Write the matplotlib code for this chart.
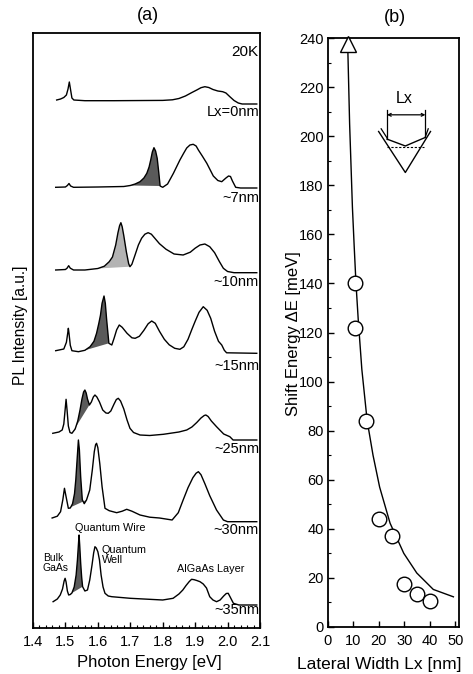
import matplotlib
matplotlib.use('Agg')
import matplotlib.pyplot as plt
from matplotlib.ticker import MultipleLocator, FormatStrFormatter
import numpy as np

plt.rcParams['font.family'] = ['Liberation Sans', 'DejaVu Sans']

# ---------------- Panel (a): PL spectra ----------------
labels_a = ['Lx=0nm', '~7nm', '~10nm', '~15nm', '~25nm', '~30nm', '~35nm']
offsets_a = [524, 440, 355.3, 274.7, 188, 106.3, 23]

e_0 = [1.473, 1.485, 1.495, 1.503, 1.508, 1.512, 1.516, 1.520, 1.526, 1.56, 1.65, 1.75, 1.80,
       1.83, 1.85, 1.87, 1.89, 1.905, 1.918, 1.93, 1.942, 1.955, 1.97, 1.985, 1.995, 2.007,
       2.02, 2.033, 2.045, 2.09]
i_0 = [4, 5, 6.5, 9, 15, 22, 14, 6, 4, 3.3, 3.3, 3.5, 3.6, 4.2, 5.5, 8, 11.5, 14, 16.3, 17.3,
       16.5, 14.5, 13, 12.3, 11, 7.3, 3.5, 1, 0, 0]

e_7 = [1.47, 1.50, 1.506, 1.511, 1.516, 1.525, 1.60, 1.68, 1.70, 1.715, 1.73, 1.742, 1.751,
       1.758, 1.763, 1.768, 1.773, 1.778, 1.783, 1.788, 1.792, 1.80, 1.815, 1.833, 1.853, 1.865,
       1.874, 1.884, 1.894, 1.903, 1.91, 1.922, 1.936, 1.956, 1.970, 1.982, 1.995, 2.003, 2.009,
       2.015, 2.025, 2.04, 2.09]
i_7 = [0.7, 1, 2.5, 4.5, 2, 0.7, 1, 1.5, 2.5, 4, 6.3, 10, 14.7, 21, 28, 36, 40.3, 37, 29.7, 15,
       2, 0.7, 4, 14.7, 28, 35, 40, 43, 43.7, 42, 38, 32, 24.7, 12, 7.5, 6.3, 10, 12, 11.5, 7,
       0.7, 0, 0]

e_10 = [1.47, 1.50, 1.505, 1.510, 1.515, 1.525, 1.56, 1.60, 1.62, 1.635, 1.645, 1.655, 1.662,
        1.667, 1.671, 1.675, 1.68, 1.688, 1.695, 1.699, 1.705, 1.715, 1.725, 1.735, 1.745,
        1.755, 1.765, 1.775, 1.79, 1.81, 1.835, 1.863, 1.885, 1.90, 1.915, 1.93, 1.945, 1.96,
        1.975, 1.987, 2.0, 2.02, 2.09]
i_10 = [2.7, 3.2, 4.5, 7, 4.5, 2.7, 2.7, 4.2, 6.5, 11, 15.7, 27.7, 40, 47, 50, 46, 37, 20.7, 9,
        6, 8.5, 18, 27.7, 34.5, 38.5, 40, 38.5, 34.7, 29, 23.5, 18.7, 17.7, 20.5, 24.5, 27.7,
        28.7, 26, 20, 11, 4.4, 1.2, 0, 0]

e_15 = [1.470, 1.495, 1.503, 1.507, 1.509, 1.511, 1.515, 1.52, 1.54, 1.56, 1.576, 1.588, 1.596,
        1.603, 1.608, 1.613, 1.619, 1.623, 1.627, 1.634, 1.643, 1.65, 1.658, 1.666, 1.675, 1.69,
        1.705, 1.715, 1.728, 1.742, 1.755, 1.766, 1.777, 1.79, 1.805, 1.82, 1.837, 1.853, 1.865,
        1.878, 1.89, 1.90, 1.912, 1.925, 1.937, 1.948, 1.96, 1.972, 1.982, 1.99, 1.997, 2.09]
i_15 = [2.6, 4.3, 11, 20, 25, 20, 8, 2.6, 1.6, 3, 6.6, 12, 20, 30, 38, 50, 57.3, 50, 34, 10, 8.3,
        15, 23.5, 28.3, 26, 20, 15.5, 15, 17, 23, 29.5, 32.3, 30, 22, 14, 8.5, 5, 4, 6.5, 14, 24,
        32, 41, 46.6, 43, 35, 22, 12, 8.3, 3, 0.5, 0]

e_25 = [1.461, 1.48, 1.49, 1.495, 1.499, 1.502, 1.505, 1.509, 1.514, 1.52, 1.53, 1.538, 1.545,
        1.551, 1.556, 1.560, 1.564, 1.568, 1.574, 1.58, 1.586, 1.591, 1.597, 1.605, 1.615, 1.625,
        1.632, 1.64, 1.65, 1.657, 1.663, 1.67, 1.68, 1.69, 1.699, 1.71, 1.73, 1.76, 1.802, 1.85,
        1.874, 1.89, 1.905, 1.918, 1.928, 1.933, 1.94, 1.95, 1.966, 1.988, 2.007, 2.017, 2.09]
i_25 = [6.7, 8, 10, 16, 30, 40.7, 30, 14, 7.5, 6.7, 11, 19, 30, 41, 48, 50, 47, 41, 35, 38, 43,
        45, 43, 38, 30, 27, 26.7, 29, 36, 40.5, 41.7, 39, 31, 20, 11.7, 7.5, 5, 4.5, 5.7, 8, 10,
        13, 17.5, 22, 24.5, 25, 23.5, 19, 13.3, 6, 3.3, 0, 0]

e_30 = [1.459, 1.475, 1.485, 1.492, 1.497, 1.502, 1.509, 1.515, 1.522, 1.528, 1.532, 1.536,
        1.540, 1.543, 1.547, 1.552, 1.558, 1.565, 1.575, 1.583, 1.589, 1.593, 1.596, 1.600,
        1.606, 1.613, 1.622, 1.635, 1.658, 1.675, 1.689, 1.705, 1.73, 1.76, 1.79, 1.829, 1.848,
        1.863, 1.878, 1.893, 1.903, 1.910, 1.918, 1.93, 1.945, 1.966, 1.987, 2.00, 2.09]
i_30 = [3.7, 5.5, 10, 22, 33.4, 25, 13.4, 13.7, 18, 28, 42, 62, 81.7, 72, 45, 22, 18, 21.7, 31.7,
        52, 70, 77, 78.4, 74, 58, 35, 13.4, 11, 9, 10.5, 12.4, 10.5, 6.7, 4.5, 3.7, 1.7, 9, 21.7,
        34, 44, 48.5, 50, 47, 38, 26, 11.7, 1.7, 0, 0]

e_35 = [1.462, 1.475, 1.484, 1.491, 1.496, 1.499, 1.502, 1.506, 1.51, 1.515, 1.52, 1.527, 1.533,
        1.537, 1.540, 1.542, 1.544, 1.547, 1.550, 1.553, 1.56, 1.568, 1.575, 1.582, 1.587, 1.591,
        1.595, 1.60, 1.605, 1.61, 1.616, 1.622, 1.632, 1.643, 1.70, 1.80, 1.832, 1.85, 1.862,
        1.872, 1.882, 1.889, 1.897, 1.905, 1.915, 1.925, 1.935, 1.945, 1.955, 1.966, 1.977,
        1.988, 1.996, 2.002, 2.008, 2.018, 2.035, 2.09]
i_35 = [3.3, 6, 10, 16, 24, 26.7, 23, 14, 10, 10.5, 12, 18, 30, 45, 60, 70, 60, 42, 28, 18.3,
        14, 15, 25, 40, 52, 58.3, 57, 53.3, 45, 30, 18, 11.7, 9, 8.3, 6.7, 5, 6.7, 11, 15, 19.5,
        23.5, 25.7, 25.3, 24.5, 23.3, 21, 17, 8.3, 5, 3.3, 5, 9, 11.5, 11.7, 8, 1.7, 0, 0]

energies = [e_0, e_7, e_10, e_15, e_25, e_30, e_35]
intensities = [i_0, i_7, i_10, i_15, i_25, i_30, i_35]

# quantum-wire peak shaded ranges (eV) and shade tone
shade_lo = [None, 1.70, 1.60, 1.56, 1.52, 1.509, 1.51]
shade_hi = [None, 1.792, 1.699, 1.634, 1.574, 1.565, 1.553]
shade_col = [None, '#5a5a5a', '#b3b3b3', '#5a5a5a', '#5a5a5a', '#5a5a5a', '#5a5a5a']

x_ticks_a = [1.4, 1.5, 1.6, 1.7, 1.8, 1.9, 2.0, 2.1]

# ---------------- Panel (b): shift energy ----------------
circle_lx = [10.5, 10.5, 15, 20, 25, 30, 35, 40]
circle_de = [140, 122, 84, 44, 37, 17.5, 13.5, 10.5]
tri_lx = [7.9]
tri_de = [237.4]
curve_lx = [7.8, 8.5, 9.6, 10.3, 11.0, 11.9, 13.3, 15.4, 17.7, 20.3, 24.4, 29.8, 34.9, 41.4, 49.3]
curve_de = [235, 205, 171, 155, 140, 125, 105, 84, 70, 57, 42.3, 30, 22, 15.3, 12.3]

fig = plt.figure(figsize=(4.73, 6.74), dpi=100)
W, H = 473.0, 674.0

axa = fig.add_axes([33 / W, 46 / H, 227 / W, 595 / H])
axa.set_xlim(1.4, 2.1)
axa.set_ylim(0, 595)
for k in range(len(energies)):
    x = np.array(energies[k])
    y = offsets_a[k] + np.array(intensities[k])
    if shade_lo[k] is not None:
        m = (x >= shade_lo[k] - 1e-9) & (x <= shade_hi[k] + 1e-9)
        axa.fill(x[m], y[m], color=shade_col[k], lw=0, zorder=1)
    axa.plot(x, y, color='k', lw=1.0, zorder=2, solid_joinstyle='round')

label_y = [516, 430, 346, 262, 179, 98, 18]
for lab, ly in zip(labels_a, label_y):
    axa.text(2.097, ly, lab, ha='right', va='center', fontsize=10.5)
axa.text(2.095, 576, '20K', ha='right', va='center', fontsize=11)
axa.text(1.430, 65, 'Bulk\nGaAs', ha='left', va='center', fontsize=7.5, linespacing=0.95)
axa.text(1.529, 100, 'Quantum Wire', ha='left', va='center', fontsize=7.8)
axa.text(1.612, 73, 'Quantum\nWell', ha='left', va='center', fontsize=7.8, linespacing=0.95)
axa.text(1.843, 59, 'AlGaAs Layer', ha='left', va='center', fontsize=7.8)

axa.set_xticks(x_ticks_a)
axa.xaxis.set_major_formatter(FormatStrFormatter('%.1f'))
axa.xaxis.set_minor_locator(MultipleLocator(0.02))
axa.set_yticks([])
axa.tick_params(axis='x', which='major', direction='in', length=4, width=1, labelsize=10.5, pad=5)
axa.tick_params(axis='x', which='minor', direction='in', length=2.5, width=0.8)
for s in axa.spines.values():
    s.set_linewidth(1.3)

fig.text(149 / W, 1 - 662 / H, 'Photon Energy [eV]', ha='center', va='center', fontsize=12)
fig.text(20 / W, 1 - 325 / H, 'PL Intensity [a.u.]', ha='center', va='center', rotation=90,
         fontsize=11.2)
fig.text(148 / W, 1 - 16 / H, '(a)', ha='center', va='center', fontsize=13)

# ---------------- Panel (b) ----------------
axb = fig.add_axes([328 / W, 47 / H, 131 / W, 589 / H])
axb.set_xlim(0, 51.5)
axb.set_ylim(0, 240)
axb.plot(curve_lx, curve_de, color='k', lw=1.0, zorder=2)
axb.plot(circle_lx, circle_de, 'o', ms=10.5, mfc='white', mec='k', mew=1.0, ls='none', zorder=3)
axb.plot(tri_lx, tri_de, '^', ms=12, mfc='white', mec='k', mew=1.0, ls='none', zorder=3,
         clip_on=False)

# schematic of the V-groove wire (inset drawing)
axb.plot([19.9, 30.4, 40.3], [201.9, 185.2, 201.9], color='k', lw=1.0)
axb.plot([20.9, 23.2], [203.0, 199.3], color='k', lw=0.9)
axb.plot([39.4, 38.3], [203.0, 199.8], color='k', lw=0.9)
axb.plot([23.2, 30.4, 38.3], [198.8, 196.0, 199.5], color='k', lw=1.0)
axb.plot([23.2, 37.7], [195.6, 195.6], color='k', lw=0.8, ls=(0, (2, 1.5)))
axb.plot([23.2, 23.2], [210.5, 198.8], color='k', lw=0.9)
axb.plot([38.3, 38.3], [210.5, 199.5], color='k', lw=0.9)
axb.annotate('', xy=(23.2, 208.7), xytext=(38.3, 208.7),
             arrowprops=dict(arrowstyle='<->', lw=0.9, color='k', shrinkA=0, shrinkB=0,
                             mutation_scale=5))
axb.text(29.8, 215.5, 'Lx', ha='center', va='center', fontsize=11.5)

axb.yaxis.set_major_locator(MultipleLocator(20))
axb.yaxis.set_minor_locator(MultipleLocator(10))
axb.xaxis.set_major_locator(MultipleLocator(10))
axb.tick_params(axis='both', which='major', direction='in', length=4, width=1, labelsize=10.5)
axb.tick_params(axis='y', which='major', pad=3)
axb.tick_params(axis='x', which='major', pad=5)
axb.tick_params(axis='y', which='minor', direction='in', length=2.5, width=0.8)
for s in axb.spines.values():
    s.set_linewidth(1.3)

fig.text(293 / W, 1 - 334 / H, 'Shift Energy \u0394E [meV]', ha='center', va='center',
         rotation=90, fontsize=12)
fig.text(379 / W, 1 - 665 / H, 'Lateral Width Lx [nm]', ha='center', va='center', fontsize=12.5)
fig.text(395 / W, 1 - 17 / H, '(b)', ha='center', va='center', fontsize=13)

fig.savefig('out.png', dpi=100, facecolor='white')
